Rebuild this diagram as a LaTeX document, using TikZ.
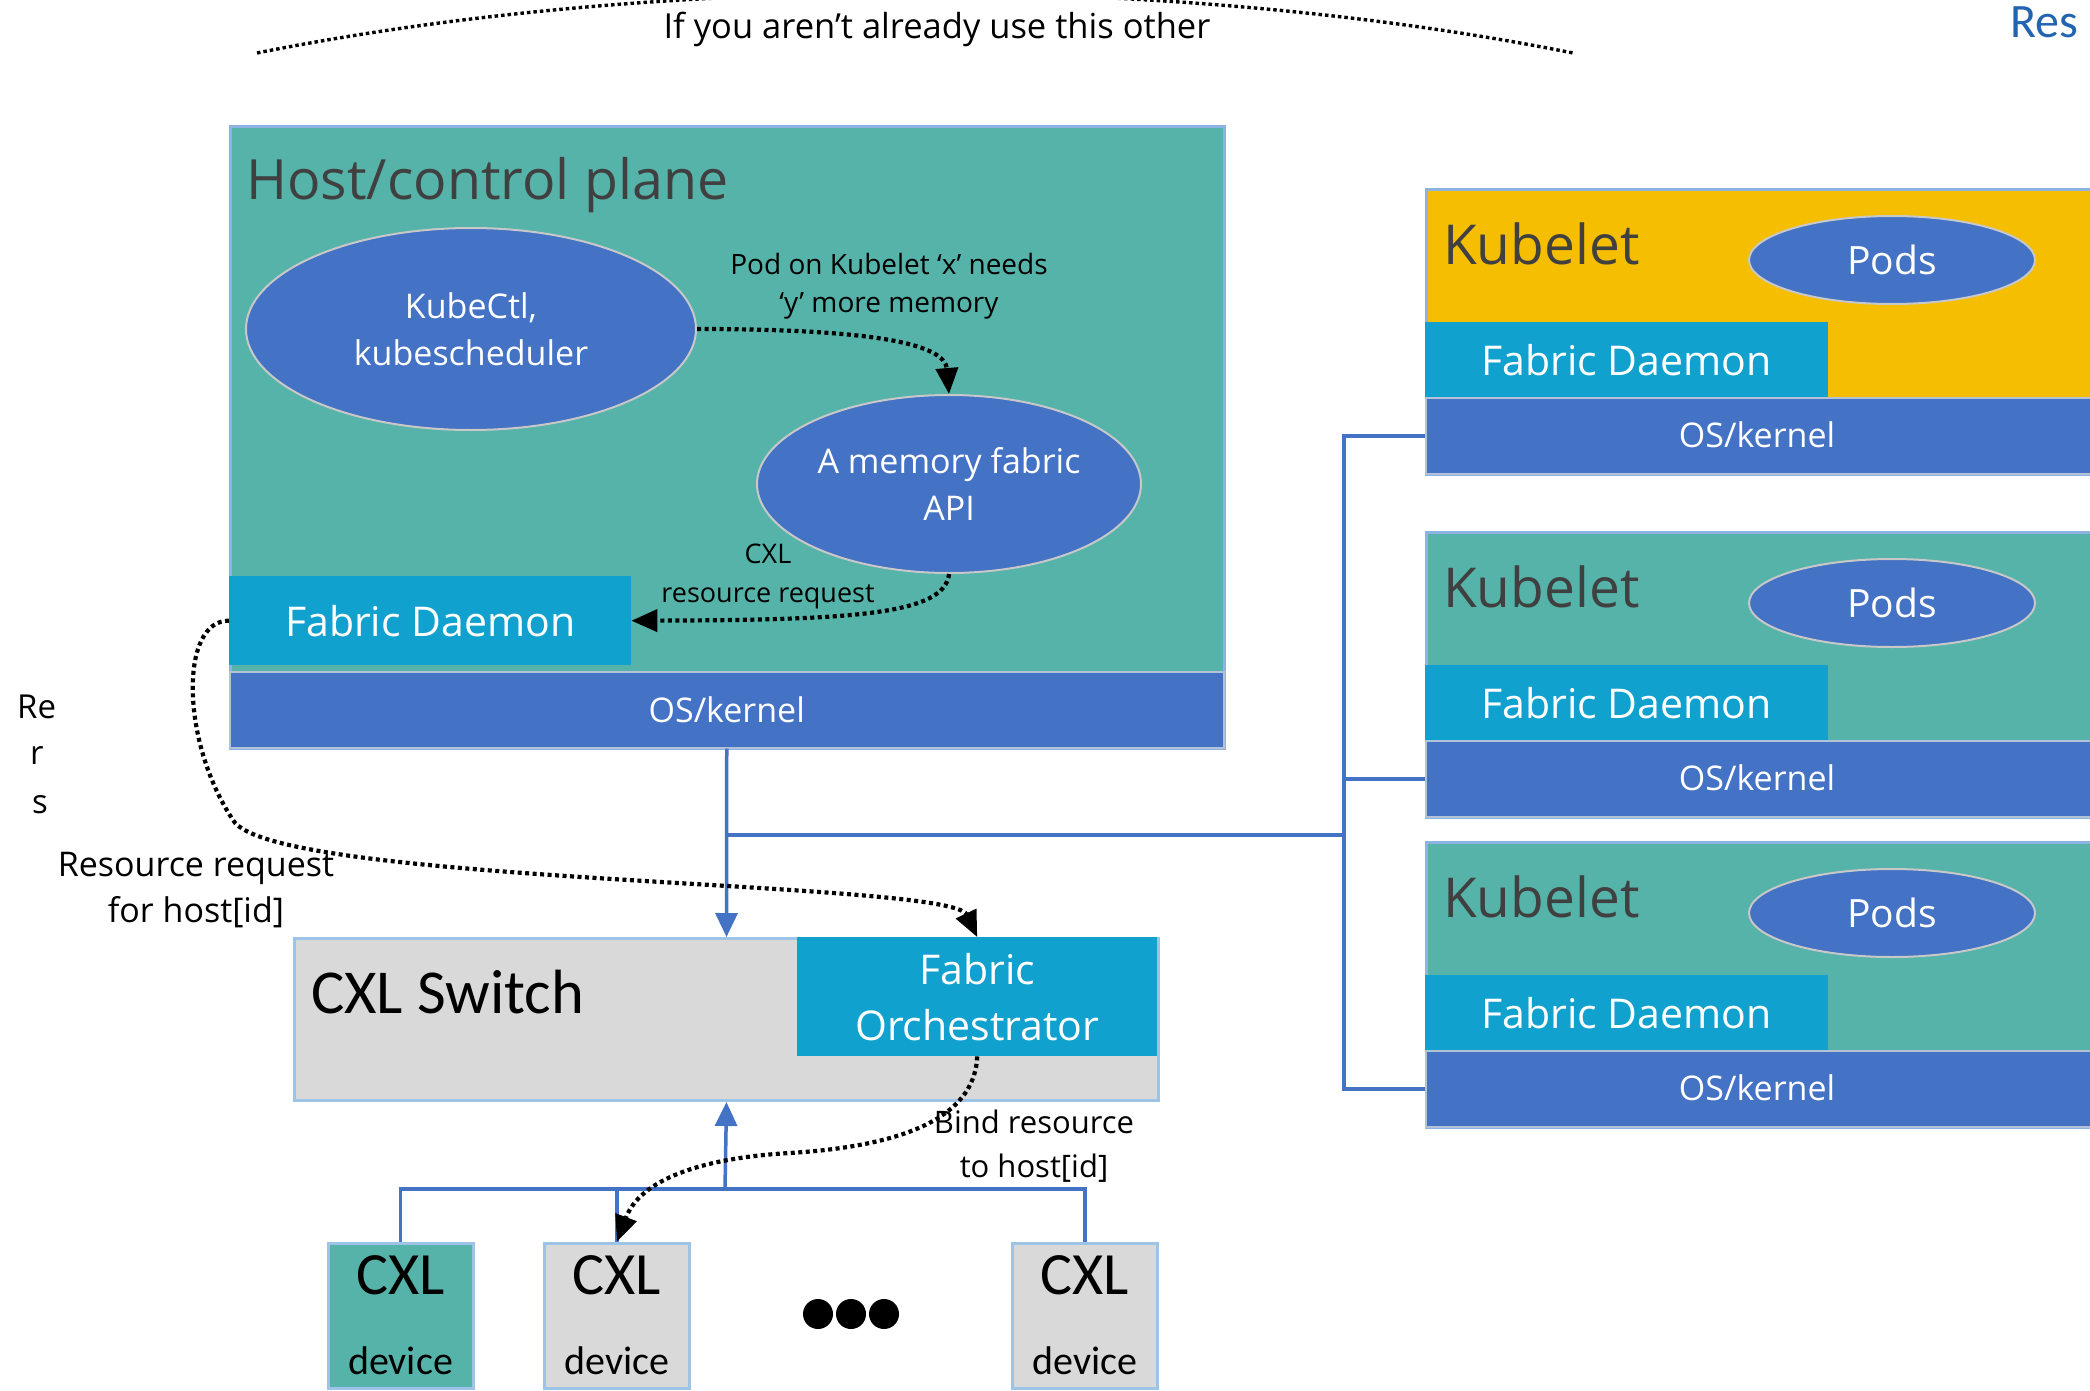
\documentclass[tikz,border=0pt]{standalone}
\usepackage{fontspec}
\setmainfont{Open Sans}
\newfontfamily\calib{Carlito}
\usetikzlibrary{arrows.meta,shapes.geometric,calc}

\definecolor{tealbg}{HTML}{55B3A9}
\definecolor{cblue}{HTML}{4472C4}
\definecolor{fdblue}{HTML}{11A1CE}
\definecolor{ygold}{HTML}{F6BE00}
\definecolor{lgray}{HTML}{D9D9D9}
\definecolor{edgeblue}{HTML}{8DB3E2}
\definecolor{swedge}{HTML}{9DC3E6}
\definecolor{osedge}{HTML}{B4C2D8}
\definecolor{blobedge}{HTML}{C8C8C8}
\definecolor{darktext}{HTML}{404040}
\definecolor{linkblue}{HTML}{2264B0}

\newcommand\fs[2]{\fontsize{#1}{#2}\selectfont}

\tikzset{
  panel/.style={rectangle, inner sep=0pt, draw=edgeblue, line width=3pt},
  fdbar/.style={rectangle, inner sep=0pt, fill=fdblue, text=white, font=\fs{41}{50}},
  osbar/.style={rectangle, inner sep=0pt, fill=cblue, draw=osedge, line width=1.5pt, text=white, font=\fs{34}{40}},
  blob/.style={ellipse, inner sep=0pt, fill=cblue, draw=blobedge, line width=2pt, text=white},
  bus/.style={draw=cblue, line width=3.5pt},
  busarrow/.style={bus, -{Triangle[length=24pt,width=22pt]}},
  flow/.style={draw=black, line width=4.2pt, dash pattern=on 4pt off 3.5pt},
  flowarrow/.style={flow, -{Triangle[length=26pt,width=22pt]}},
  note/.style={inner sep=0pt, align=center, text=black},
}

% one worker node: name, top edge, panel colour
\newcommand\kubeletunit[3]{%
  \node[panel, fill=#3, minimum width=680pt, minimum height=285pt, anchor=north west] (#1) at (1425,#2) {};
  \node[anchor=base west, inner sep=0pt, text=darktext, font=\fs{55}{60}] (#1title) at (1443,#2+76) {Kubelet};
  \node[blob, minimum width=286pt, minimum height=88pt, font=\fs{39}{44}] (#1pods) at (1892,#2+72) {Pods};
  \node[fdbar, minimum width=403pt, minimum height=75pt, anchor=north west] (#1fd) at (1425,#2+134) {Fabric Daemon};
  \node[osbar, minimum width=680pt, minimum height=76pt, anchor=north west] (#1os) at (1425,#2+209) {};
  \node[inner sep=0pt, text=white, font=\fs{34}{40}] (#1ostxt) at (1757,#2+247) {OS/kernel};
}

\begin{document}
\begin{tikzpicture}[x=1pt,y=-1pt]
\useasboundingbox (0,0) rectangle (2090,1391);
\fill[white] (0,0) rectangle (2090,1391);

% header
\coordinate (arcL) at (257,53);
\coordinate (arcR) at (1573,53);
\draw[flow, line width=3.4pt, dash pattern=on 3.5pt off 3pt] (arcL) .. controls (657,-27) and (1173,-27) .. (arcR);
\node[note, font=\fs{34.5}{40}] (hdr) at (937,29) {If you aren’t already use this other};
\node[anchor=base west, inner sep=0pt, text=linkblue, font=\calib\fs{48}{52}] (corner) at (2010,38) {Res};

% left margin fragments
\node[anchor=west, inner sep=0pt, font=\fs{33}{40}] (frag1) at (17,707) {Re};
\node[anchor=west, inner sep=0pt, font=\fs{33}{40}] (frag2) at (30,756) {r};
\node[anchor=west, inner sep=0pt, font=\fs{33}{40}] (frag3) at (32,805) {s};

% host / control plane
\node[panel, fill=tealbg, minimum width=994pt, minimum height=622pt, anchor=north west] (host) at (229,125) {};
\node[anchor=base west, inner sep=0pt, text=darktext, font=\fs{55.5}{60}] (hosttitle) at (246,200) {Host/control plane};
\node[blob, minimum width=450pt, minimum height=202pt, font=\fs{34}{47}, align=center] (kctl) at (471,329) {KubeCtl,\\kubescheduler};
\node[blob, minimum width=384pt, minimum height=178pt, font=\fs{34}{47}, align=center] (api) at (949,484) {A memory fabric\\API};
\node[fdbar, minimum width=402pt, minimum height=89pt, anchor=north west] (hfd) at (229,576) {Fabric Daemon};
\node[osbar, minimum width=994pt, minimum height=76pt, anchor=north west] (hos) at (229,671) {OS/kernel};

\node[note, font=\fs{28}{38}] (needlbl) at (889,286) {Pod on Kubelet ‘x’ needs\\‘y’ more memory};
\node[note, font=\fs{27}{39}] (reqlbl) at (768,576) {CXL\\resource request};

% worker nodes
\kubeletunit{ka}{188}{ygold}
\kubeletunit{kb}{531}{tealbg}
\kubeletunit{kc}{841}{tealbg}

% switch
\node[panel, draw=swedge, fill=lgray, minimum width=864pt, minimum height=162pt, anchor=north west] (sw) at (293,937) {};
\node[anchor=base west, inner sep=0pt, font=\calib\fs{62.5}{70}] (swtitle) at (311,1013) {CXL Switch};
\node[fdbar, minimum width=360pt, minimum height=119pt, anchor=north west, align=center, font=\fs{41}{56}] (fo) at (797,937) {Fabric\\Orchestrator};

% devices
\node[panel, draw=swedge, fill=tealbg, minimum width=145pt, minimum height=145pt] (d1) at (400.5,1315.5) {};
\node[panel, draw=swedge, fill=lgray, minimum width=145pt, minimum height=145pt] (d2) at (617,1315.5) {};
\node[panel, draw=swedge, fill=lgray, minimum width=145pt, minimum height=145pt] (d3) at (1085,1315.5) {};
\foreach \d in {d1,d2,d3}{
  \node[inner sep=0pt, font=\calib\fs{60}{64}] (\d cxl) at ($(\d.center)+(0,-40)$) {CXL};
  \node[inner sep=0pt, font=\calib\fs{40}{44}] (\d dev) at ($(\d.center)+(0,45)$) {device};
}
\foreach \i/\x in {1/818,2/851,3/884}{
  \node[circle, fill=black, inner sep=0pt, minimum size=30pt] (dot\i) at (\x,1314) {};
}

% interconnect
\coordinate (tap) at (726,835);
\coordinate (trunk) at (1344,835);
\draw[busarrow] (hos.south) -- (sw.north);
\draw[bus] (tap) -- (trunk);
\draw[bus] (kaos.west) -| (trunk);
\draw[bus] (kbos.west) -| (trunk);
\draw[bus] (kcos.west) -| (trunk);

\coordinate (hub) at (725,1189);
\draw[busarrow] (hub) -- (sw.south);
\draw[bus] (d1.north) |- (hub);
\draw[bus] (d2.north) |- (hub);
\draw[bus] (d3.north) |- (hub);

% request flow
\draw[flowarrow] (kctl.east) .. controls (880,329) and (945,345) .. (api.north);
\draw[flowarrow] (api.south) .. controls (945,615) and (850,620) .. (hfd.east);
\draw[flowarrow] (hfd.west) .. controls (180,620) and (180,740) .. (233,820)
      .. controls (270,885) and (950,880) .. (fo.north);
\draw[flowarrow] (fo.south) .. controls (975,1110) and (920,1145) .. (790,1153)
      .. controls (700,1158) and (640,1180) .. (d2.north);

\node[note, font=\fs{34}{46}] (rrlbl) at (196,890) {Resource request\\for host[id]};
\node[note, font=\fs{31}{44}] (bindlbl) at (1034,1146) {Bind resource\\to host[id]};
\end{tikzpicture}
\end{document}
